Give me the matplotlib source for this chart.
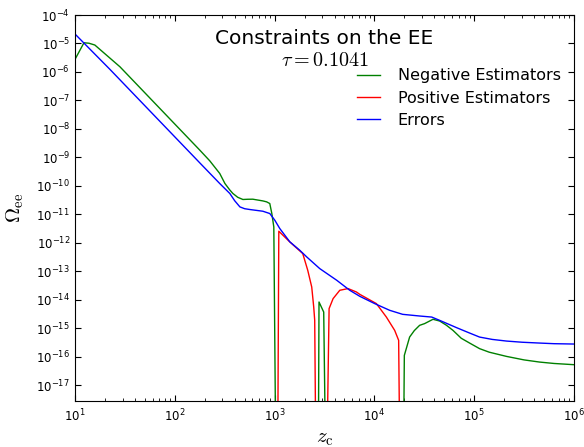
import matplotlib
matplotlib.use("Agg")
import matplotlib.pyplot as plt
from matplotlib.ticker import LogLocator

plt.rcParams['font.family'] = ['DejaVu Sans']
plt.rcParams['mathtext.fontset'] = 'cm'
plt.rcParams['axes.unicode_minus'] = False

# drop points (1e-19) mark where the curve leaves the bottom of the plot
LOW = 1e-19

neg_z = [10, 12.3, 13.8, 15.8, 28.2, 178, 224, 282, 318, 355, 382, 427, 481, 537, 605,
         762, 832, 895, 938, 982,
         1025, 2748, 2786, 3105, 3228,
         19630, 19950, 22540, 25120, 28380, 31840, 38640, 45080, 52480, 61240, 74130,
         89950, 113200, 141300, 210900, 316200, 451900, 631000, 1e6]
neg_val = [2.77e-6, 1.06e-5, 1.02e-5, 8.83e-6, 1.52e-6, 1.80e-9, 7.59e-10, 2.73e-10,
           1.21e-10, 7.24e-11, 5.41e-11, 3.98e-11, 3.33e-11, 3.39e-11, 3.41e-11,
           2.97e-11, 2.75e-11, 2.40e-11, 1.07e-11, 3.62e-12,
           LOW, LOW, 8.38e-15, 3.72e-15, LOW,
           LOW, 1.12e-16, 4.93e-16, 8.32e-16, 1.27e-15, 1.46e-15, 2.07e-15, 1.80e-15,
           1.29e-15, 8.47e-16, 4.47e-16, 3.03e-16, 1.93e-16, 1.45e-16, 1.03e-16,
           7.76e-17, 6.52e-17, 5.82e-17, 5.27e-17]

pos_z = [1076, 1102, 1419, 1914, 2148, 2355, 2466, 2523, 2582,
         3357, 3516, 3855, 4498, 5445, 6607, 7129, 10470, 13180, 15960, 17500, 17910]
pos_val = [LOW, 2.56e-12, 1.08e-12, 4.21e-13, 1.09e-13, 2.82e-14, 5.58e-15, 1.91e-15, LOW,
           LOW, 4.91e-15, 1.10e-14, 2.16e-14, 2.48e-14, 1.88e-14, 1.56e-14, 7.36e-15,
           2.48e-15, 8.47e-16, 3.78e-16, LOW]

err_z = [10, 22.4, 178, 282, 356, 398, 449, 501, 565, 762, 895, 1005, 1127, 1419, 1786,
         2099, 2831, 4198, 5662, 7129, 10070, 14220, 19190, 28380, 37500, 45080, 66680,
         89950, 113200, 151400, 210900, 302000, 451900, 631000, 1e6]
err_val = [2.15e-5, 1.23e-6, 6.43e-10, 1.21e-10, 5.40e-11, 3.02e-11, 1.83e-11, 1.58e-11,
           1.48e-11, 1.29e-11, 1.07e-11, 6.22e-12, 3.18e-12, 1.09e-12, 5.50e-13,
           3.20e-13, 1.25e-13, 4.84e-14, 2.16e-14, 1.33e-14, 7.36e-15, 4.28e-15,
           3.09e-15, 2.70e-15, 2.48e-15, 1.90e-15, 1.05e-15, 6.81e-16, 4.92e-16,
           4.07e-16, 3.56e-16, 3.24e-16, 3.03e-16, 2.88e-16, 2.80e-16]

tau = 0.1041

fig = plt.figure(figsize=(5.84, 4.47), dpi=100)
ax = fig.add_axes([75 / 584, 1 - 401 / 447, 499 / 584, 386 / 447])

ax.plot(neg_z, neg_val, color=(0, 0.5, 0), lw=1.0, label='Negative Estimators')
ax.plot(pos_z, pos_val, color='r', lw=1.0, label='Positive Estimators')
ax.plot(err_z, err_val, color='b', lw=1.0, label='Errors')

ax.set_xscale('log')
ax.set_yscale('log')
ax.set_xlim(10, 1e6)
ax.set_ylim(2.8e-18, 1e-4)
ax.yaxis.set_major_locator(LogLocator(base=10, numticks=30))

ax.tick_params(which='both', direction='in', top=True, right=True, labelsize=8.5)
ax.tick_params(which='major', length=4, width=0.8)
ax.tick_params(which='minor', length=2, width=0.6)
ax.tick_params(axis='x', pad=5)

ax.set_xlabel(r'$z_{\rm c}$', fontsize=15)
ax.set_ylabel(r'$\Omega_{\rm ee}$', fontsize=15)
ax.xaxis.set_label_coords(0.5, -0.07)
ax.yaxis.set_label_coords(-0.098, 0.5)

ax.text(0.5, 0.94, 'Constraints on the EE', transform=ax.transAxes,
        ha='center', va='center', fontsize=14.5)
ax.text(0.5, 0.883, r'$\tau = %.4f$' % tau, transform=ax.transAxes,
        ha='center', va='center', fontsize=14.5)

ax.legend(loc='upper left', bbox_to_anchor=(0.552, 0.878), frameon=False,
          fontsize=11.5, handlelength=1.45, handletextpad=1.1,
          labelspacing=0.45, borderaxespad=0)

fig.savefig('out.png', dpi=100)
